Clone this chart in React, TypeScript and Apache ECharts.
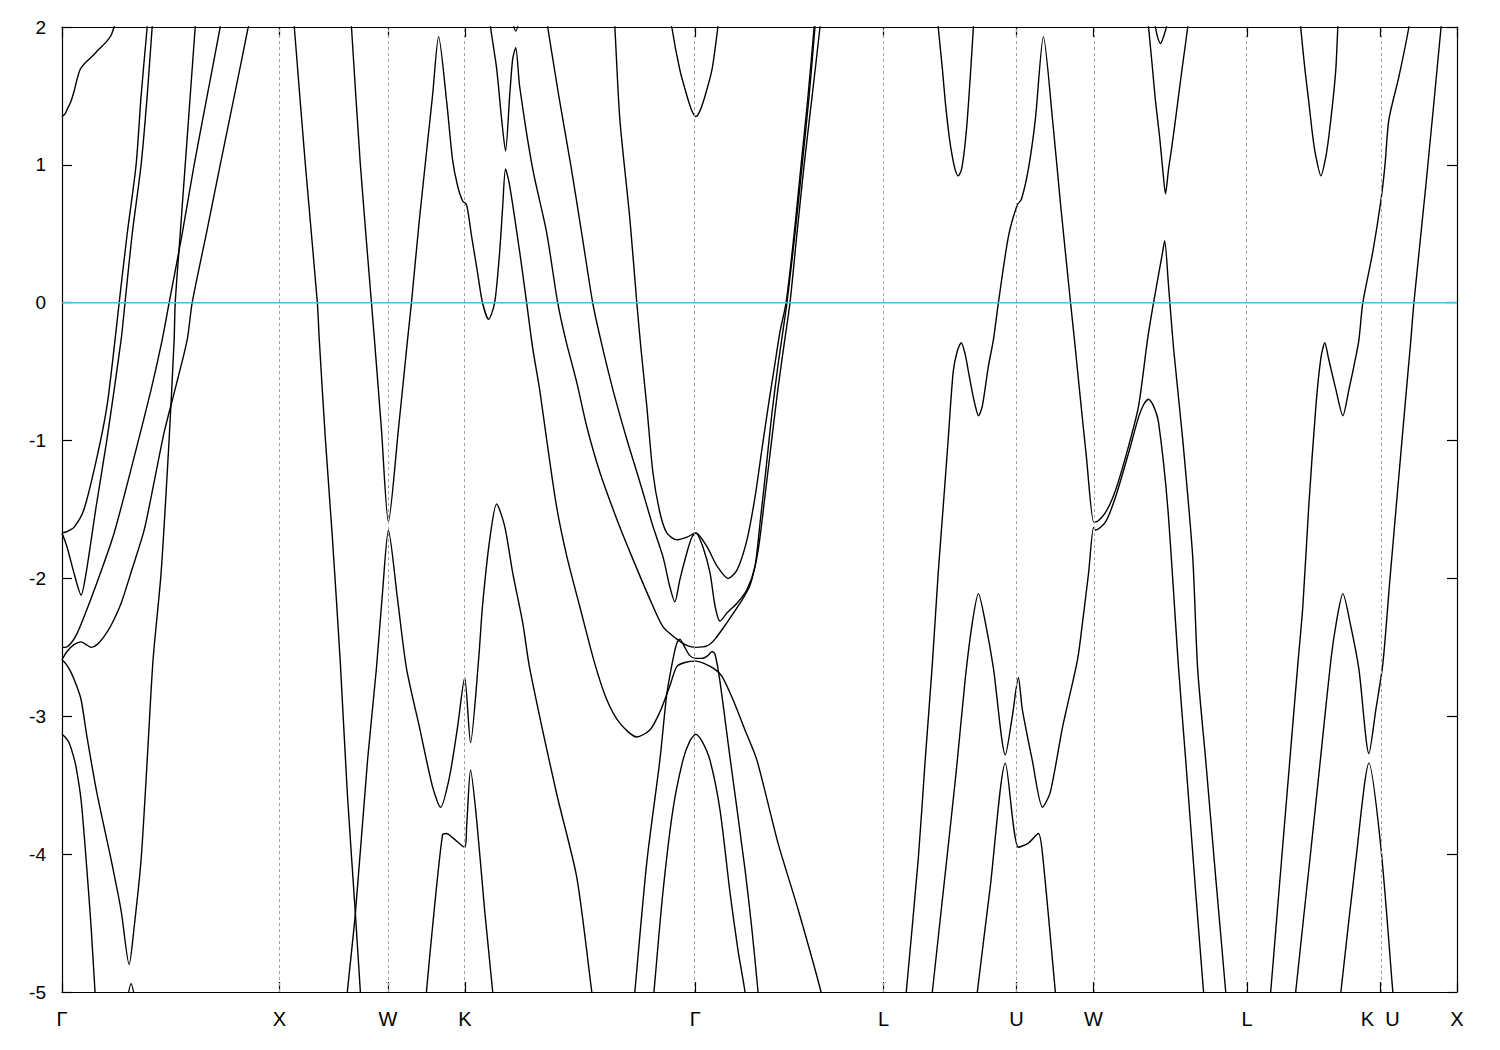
import React, { useEffect, useRef } from "react";
import * as echarts from "echarts";

// High-symmetry path (cumulative k distance, units of 2π/a)
const tickPositions = [0, 1, 1.5, 1.8536, 2.9142, 3.7802, 4.3926, 4.7462, 5.4533, 6.0657, 6.4193];
const tickLabels = ["Γ", "X", "W", "K", "Γ", "L", "U", "W", "L", "K\u00a0\u00a0U", "X"];
const energyMin = -5;
const energyMax = 2;
const energyStep = 1;
const fermiLevel = 0;

// Bands: [k, E(eV)]
const bandA = [[0,1.35],[0.014,1.37],[0.023,1.40],[0.041,1.46],[0.055,1.53],[0.069,1.62],[0.083,1.69],[0.101,1.73],[0.134,1.78],[0.171,1.84],[0.203,1.89],[0.226,1.94],[0.240,2.0],[0.253,2.05]];
const bandU1 = [[0,-1.67],[0.023,-1.66],[0.055,-1.63],[0.101,-1.5],[0.161,-1.12],[0.207,-0.75],[0.244,-0.27],[0.263,0],[0.300,0.5],[0.341,1.0],[0.364,1.5],[0.392,2.0],[0.401,2.15]];
const bandU2 = [[0,-1.67],[0.023,-1.77],[0.055,-1.96],[0.088,-2.12],[0.111,-1.96],[0.157,-1.48],[0.207,-0.99],[0.272,-0.27],[0.290,0],[0.323,0.5],[0.364,1.0],[0.392,1.5],[0.415,2.0],[0.424,2.15]];
const bandP = [[0,-2.5],[0.014,-2.5],[0.041,-2.47],[0.069,-2.4],[0.101,-2.28],[0.161,-2.03],[0.240,-1.67],[0.332,-1.12],[0.410,-0.63],[0.461,-0.27],[0.493,0],[0.553,0.5],[0.608,1.0],[0.668,1.5],[0.728,2.0],[0.737,2.1]];
const bandR = [[0,-2.59],[0.023,-2.53],[0.055,-2.48],[0.088,-2.46],[0.111,-2.48],[0.134,-2.5],[0.161,-2.48],[0.194,-2.42],[0.226,-2.34],[0.272,-2.18],[0.323,-1.93],[0.378,-1.65],[0.424,-1.3],[0.470,-0.94],[0.525,-0.6],[0.576,-0.27],[0.599,0],[0.664,0.5],[0.728,1.0],[0.793,1.5],[0.857,2.0],[0.866,2.1]];
const bandS = [[0,-2.59],[0.018,-2.62],[0.041,-2.68],[0.065,-2.77],[0.088,-2.88],[0.115,-3.15],[0.161,-3.56],[0.226,-4.04],[0.272,-4.41],[0.309,-4.8],[0.332,-4.53],[0.364,-4.04],[0.392,-3.32],[0.419,-2.59],[0.456,-1.96],[0.493,-0.99],[0.516,-0.27],[0.521,0],[0.544,0.5],[0.567,1.0],[0.590,1.5],[0.613,2.0],[0.618,2.1]];
const bandT = [[0,-3.13],[0.014,-3.15],[0.032,-3.19],[0.051,-3.28],[0.065,-3.37],[0.088,-3.61],[0.111,-4.04],[0.134,-4.53],[0.152,-5.0],[0.157,-5.1]];
const bandCap = [[0.295,-5.1],[0.318,-4.94],[0.341,-5.1]];
const bandX1 = [[1.060,2.2],[1.069,2.0],[1.120,1.0],[1.175,0],[1.184,-0.27],[1.212,-0.99],[1.244,-1.7],[1.281,-2.62],[1.313,-3.56],[1.350,-4.43],[1.373,-5.0],[1.378,-5.1]];
const bandWV = [[1.323,2.2],[1.332,2.0],[1.373,1.0],[1.424,0],[1.438,-0.27],[1.470,-0.92],[1.502,-1.59],[1.548,-0.92],[1.590,-0.27],[1.608,0],[1.645,0.61],[1.705,1.5],[1.733,1.93],[1.770,1.46],[1.797,1.04],[1.820,0.85],[1.843,0.74],[1.862,0.71],[1.885,0.48],[1.912,0.22],[1.935,0],[1.963,-0.12],[1.991,0],[2.014,0.37],[2.028,0.7],[2.041,0.97],[2.060,0.85],[2.106,0.37],[2.138,0],[2.166,-0.33],[2.198,-0.63],[2.230,-0.99],[2.276,-1.48],[2.323,-1.84],[2.382,-2.2],[2.452,-2.62],[2.507,-2.88],[2.567,-3.05],[2.645,-3.15],[2.705,-3.1],[2.751,-2.97],[2.797,-2.78],[2.829,-2.64],[2.866,-2.61],[2.917,-2.6],[2.959,-2.62],[3.005,-2.66],[3.037,-2.71],[3.088,-2.88],[3.143,-3.1],[3.198,-3.32],[3.295,-3.92],[3.387,-4.4],[3.493,-5.0],[3.502,-5.1]];
const bandWL = [[1.309,-5.1],[1.313,-5.0],[1.350,-4.43],[1.406,-3.32],[1.447,-2.65],[1.475,-2.1],[1.502,-1.65],[1.544,-2.15],[1.585,-2.65],[1.645,-3.08],[1.705,-3.51],[1.742,-3.66],[1.783,-3.44],[1.820,-3.08],[1.853,-2.72],[1.880,-3.19],[1.917,-2.59],[1.935,-2.2],[1.968,-1.72],[2.0,-1.46],[2.037,-1.62],[2.074,-1.96],[2.120,-2.32],[2.152,-2.65],[2.276,-3.56],[2.369,-4.17],[2.438,-5.0],[2.447,-5.1]];
const bandKL = [[1.673,-5.1],[1.677,-5.0],[1.705,-4.53],[1.751,-3.86],[1.770,-3.85],[1.797,-3.88],[1.853,-3.95],[1.862,-3.8],[1.880,-3.39],[1.908,-3.75],[1.945,-4.41],[1.982,-5.0],[1.986,-5.1]];
const bandVG = [[1.968,2.1],[1.972,2.0],[2.0,1.7],[2.023,1.33],[2.041,1.1],[2.060,1.5],[2.074,1.77],[2.088,1.85],[2.106,1.57],[2.166,0.97],[2.230,0.51],[2.281,0],[2.318,-0.27],[2.369,-0.58],[2.415,-0.9],[2.475,-1.23],[2.553,-1.57],[2.627,-1.86],[2.705,-2.15],[2.765,-2.35],[2.829,-2.44],[2.880,-2.49],[2.917,-2.5],[2.968,-2.49],[3.005,-2.44],[3.060,-2.32],[3.120,-2.18],[3.166,-2.05],[3.203,-1.8],[3.235,-1.4],[3.267,-0.98],[3.295,-0.62],[3.323,-0.3],[3.350,0],[3.382,0.5],[3.415,1.0],[3.452,1.5],[3.488,2.0],[3.493,2.1]];
const bandNotch1 = [[2.069,2.06],[2.088,1.97],[2.106,2.06]];
const bandL3 = [[2.226,2.1],[2.235,2.0],[2.286,1.5],[2.341,1.0],[2.392,0.5],[2.442,0],[2.479,-0.27],[2.535,-0.63],[2.599,-0.99],[2.659,-1.3],[2.719,-1.62],[2.765,-1.84],[2.797,-2.06],[2.820,-2.17],[2.843,-2.01],[2.876,-1.81],[2.899,-1.7],[2.917,-1.67],[2.949,-1.77],[2.982,-1.96],[3.005,-2.2],[3.028,-2.31],[3.060,-2.25],[3.106,-2.18],[3.152,-2.08],[3.189,-1.91],[3.212,-1.6],[3.240,-1.2],[3.267,-0.8],[3.295,-0.45],[3.318,-0.2],[3.336,0],[3.373,0.5],[3.406,1.0],[3.438,1.5],[3.465,2.0],[3.470,2.1]];
const bandL4 = [[2.539,2.1],[2.544,2.0],[2.567,1.33],[2.613,0.61],[2.645,0],[2.664,-0.33],[2.691,-0.75],[2.719,-1.23],[2.751,-1.52],[2.783,-1.67],[2.829,-1.72],[2.876,-1.7],[2.917,-1.67],[2.968,-1.77],[3.014,-1.91],[3.065,-2.0],[3.106,-1.94],[3.152,-1.72],[3.189,-1.41],[3.221,-1.06],[3.253,-0.72],[3.281,-0.44],[3.304,-0.21],[3.332,0],[3.369,0.5],[3.401,1.0],[3.433,1.5],[3.461,2.0],[3.465,2.1]];
const bandGP = [[2.802,2.1],[2.806,2.0],[2.843,1.69],[2.876,1.5],[2.899,1.39],[2.917,1.35],[2.935,1.39],[2.959,1.5],[2.991,1.69],[3.018,2.0],[3.023,2.1]];
const bandAlpha = [[2.631,-5.1],[2.636,-5.0],[2.691,-4.06],[2.751,-3.32],[2.783,-2.84],[2.811,-2.59],[2.829,-2.47],[2.843,-2.44],[2.866,-2.5],[2.889,-2.56],[2.917,-2.58],[2.945,-2.58],[2.972,-2.56],[2.991,-2.53],[3.005,-2.55],[3.028,-2.75],[3.074,-3.3],[3.143,-4.11],[3.175,-4.55],[3.203,-5.0],[3.207,-5.1]];
const bandGL = [[2.719,-5.1],[2.724,-5.0],[2.765,-4.28],[2.811,-3.68],[2.857,-3.32],[2.889,-3.18],[2.917,-3.13],[2.945,-3.18],[2.982,-3.32],[3.028,-3.68],[3.074,-4.28],[3.111,-4.7],[3.143,-5.0],[3.147,-5.1]];
const bandV1 = [[4.028,2.1],[4.032,2.0],[4.051,1.7],[4.065,1.45],[4.083,1.2],[4.097,1.06],[4.111,0.96],[4.124,0.92],[4.138,0.96],[4.152,1.1],[4.166,1.33],[4.180,1.65],[4.194,2.0],[4.198,2.1]];
const bandV2 = [[4.995,2.1],[5.0,2.0],[5.018,1.7],[5.032,1.46],[5.051,1.2],[5.065,0.97],[5.078,0.79],[5.092,0.97],[5.106,1.12],[5.124,1.33],[5.152,1.67],[5.180,2.0],[5.184,2.1]];
const bandNotch2 = [[5.028,2.03],[5.041,1.93],[5.055,1.88],[5.069,1.93],[5.088,2.03]];
const bandV3 = [[5.696,2.1],[5.700,2.0],[5.719,1.7],[5.737,1.46],[5.756,1.2],[5.770,1.06],[5.793,0.92],[5.816,1.06],[5.829,1.2],[5.848,1.46],[5.862,1.7],[5.871,2.0],[5.876,2.1]];
const bandR1 = [[3.880,-5.1],[3.885,-5.0],[3.940,-4.04],[3.972,-3.32],[4.005,-2.62],[4.032,-1.96],[4.055,-1.48],[4.078,-0.99],[4.101,-0.5],[4.120,-0.35],[4.138,-0.29],[4.157,-0.38],[4.171,-0.5],[4.189,-0.65],[4.203,-0.75],[4.217,-0.82],[4.235,-0.75],[4.263,-0.46],[4.286,-0.27],[4.309,0],[4.355,0.48],[4.396,0.71],[4.415,0.75],[4.447,0.97],[4.479,1.33],[4.516,1.93],[4.558,1.33],[4.594,0.73],[4.641,0],[4.659,-0.27],[4.682,-0.63],[4.714,-1.12],[4.747,-1.59],[4.756,-1.59],[4.802,-1.52],[4.848,-1.36],[4.908,-1.04],[4.954,-0.75],[4.995,-0.27],[5.023,0],[5.065,0.37],[5.074,0.45],[5.092,0.12],[5.115,-0.33],[5.157,-0.99],[5.203,-1.84],[5.226,-2.66],[5.263,-3.32],[5.309,-4.17],[5.355,-5.0],[5.359,-5.1]];
const bandC2 = [[4.0,-5.1],[4.005,-5.0],[4.065,-4.13],[4.115,-3.4],[4.157,-2.72],[4.189,-2.32],[4.217,-2.11],[4.249,-2.32],[4.286,-2.65],[4.341,-3.28],[4.373,-3.0],[4.401,-2.72],[4.419,-2.95],[4.465,-3.32],[4.512,-3.66],[4.548,-3.55],[4.604,-3.08],[4.673,-2.59],[4.696,-2.32],[4.724,-1.96],[4.747,-1.63],[4.756,-1.65],[4.802,-1.59],[4.848,-1.41],[4.908,-1.09],[4.954,-0.83],[4.977,-0.74],[5.0,-0.7],[5.023,-0.75],[5.046,-0.87],[5.088,-1.48],[5.138,-2.65],[5.171,-3.32],[5.217,-4.28],[5.253,-5.0],[5.258,-5.1]];
const bandC1 = [[4.207,-5.1],[4.212,-5.0],[4.272,-4.23],[4.341,-3.34],[4.401,-3.95],[4.447,-3.92],[4.493,-3.85],[4.512,-4.0],[4.571,-5.0],[4.576,-5.1]];
const bandR3 = [[5.558,-5.1],[5.562,-5.0],[5.622,-3.85],[5.687,-2.62],[5.710,-2.2],[5.737,-1.48],[5.770,-0.75],[5.793,-0.4],[5.811,-0.29],[5.829,-0.41],[5.862,-0.63],[5.894,-0.82],[5.922,-0.63],[5.954,-0.39],[5.968,-0.27],[5.986,0],[6.032,0.37],[6.069,0.74],[6.088,1.0],[6.106,1.33],[6.152,1.64],[6.198,2.0],[6.203,2.1]];
const bandR4 = [[5.673,-5.1],[5.677,-5.0],[5.747,-3.97],[5.793,-3.28],[5.839,-2.59],[5.866,-2.3],[5.894,-2.11],[5.931,-2.35],[5.968,-2.66],[6.014,-3.27],[6.046,-2.95],[6.078,-2.62],[6.111,-2.0],[6.166,-1.0],[6.194,-0.5],[6.207,-0.27],[6.221,0],[6.276,0.85],[6.346,2.0],[6.350,2.1]];
const bandR5 = [[5.880,-5.1],[5.885,-5.0],[5.954,-4.04],[6.014,-3.34],[6.069,-3.95],[6.124,-5.0],[6.129,-5.1]];

const bandList = [
  bandA, bandU1, bandU2, bandP, bandR, bandS, bandT, bandCap, bandX1, bandWV, bandWL, bandKL,
  bandVG, bandNotch1, bandL3, bandL4, bandGP, bandAlpha, bandGL, bandV1, bandV2, bandNotch2, bandV3,
  bandR1, bandC2, bandC1, bandR3, bandR4, bandR5,
];

const FONT = "'Liberation Sans', Arial, Helvetica, sans-serif";

function labelFor(v: number): string {
  let best = 0;
  let bestD = Infinity;
  for (let i = 0; i < tickPositions.length; i++) {
    const d = Math.abs(tickPositions[i] - v);
    if (d < bestD) { bestD = d; best = i; }
  }
  return tickLabels[best];
}

export default function App() {
  const ref = useRef<HTMLDivElement>(null);
  useEffect(() => {
    if (!ref.current) return;
    const chart = echarts.init(ref.current, null, { renderer: "svg" });
    const xMax = tickPositions[tickPositions.length - 1];
    const axisLineStyle = { color: "#000", width: 1.2 };
    const bandSeries = bandList.map((data, i) => ({
      type: "line",
      name: "band" + i,
      data,
      showSymbol: false,
      symbol: "none",
      clip: true,
      silent: true,
      smooth: 0.25,
      z: 3,
      lineStyle: { color: "#000", width: 1.4 },
      emphasis: { disabled: true },
    }));
    chart.setOption({
      animation: false,
      backgroundColor: "#fff",
      grid: { left: 62, right: 43, top: 27, bottom: 58 },
      xAxis: [
        {
          type: "value", min: 0, max: xMax, position: "bottom",
          axisLine: { show: true, onZero: false, lineStyle: axisLineStyle },
          axisTick: { show: true, inside: true, length: 10, customValues: tickPositions, lineStyle: axisLineStyle },
          axisLabel: { show: true, customValues: tickPositions, formatter: (v: number) => labelFor(v), color: "#000", fontSize: 20, fontFamily: FONT, margin: 17 },
          splitLine: { show: false },
        },
        {
          type: "value", min: 0, max: xMax, position: "top",
          axisLine: { show: true, onZero: false, lineStyle: axisLineStyle },
          axisTick: { show: true, inside: true, length: 10, customValues: tickPositions, lineStyle: axisLineStyle },
          axisLabel: { show: false },
          splitLine: { show: false },
        },
      ],
      yAxis: [
        {
          type: "value", min: energyMin, max: energyMax, interval: energyStep, position: "left",
          axisLine: { show: true, onZero: false, lineStyle: axisLineStyle },
          axisTick: { show: true, inside: true, length: 10, lineStyle: axisLineStyle },
          axisLabel: { show: true, color: "#000", fontSize: 19, fontFamily: FONT, margin: 16 },
          splitLine: { show: false },
        },
        {
          type: "value", min: energyMin, max: energyMax, interval: energyStep, position: "right",
          axisLine: { show: true, onZero: false, lineStyle: axisLineStyle },
          axisTick: { show: true, inside: true, length: 10, lineStyle: axisLineStyle },
          axisLabel: { show: false },
          splitLine: { show: false },
        },
      ],
      series: [
        {
          type: "line",
          data: [],
          silent: true,
          z: 1,
          markLine: {
            silent: true,
            symbol: ["none", "none"],
            label: { show: false },
            lineStyle: { color: "#a0a0a0", width: 1, type: [3, 3] },
            data: tickPositions.slice(1, -1).map((v) => ({ xAxis: v })),
          },
        },
        ...bandSeries,
        {
          type: "line",
          data: [[0, fermiLevel], [xMax, fermiLevel]],
          showSymbol: false,
          symbol: "none",
          silent: true,
          z: 5,
          lineStyle: { color: "#56b4e9", width: 1.4 },
        },
      ],
    });
    return () => chart.dispose();
  }, []);
  return (
    <div
      ref={ref}
      style={{ position: "fixed", left: 0, top: 0, width: 1500, height: 1050, background: "#fff" }}
    />
  );
}
